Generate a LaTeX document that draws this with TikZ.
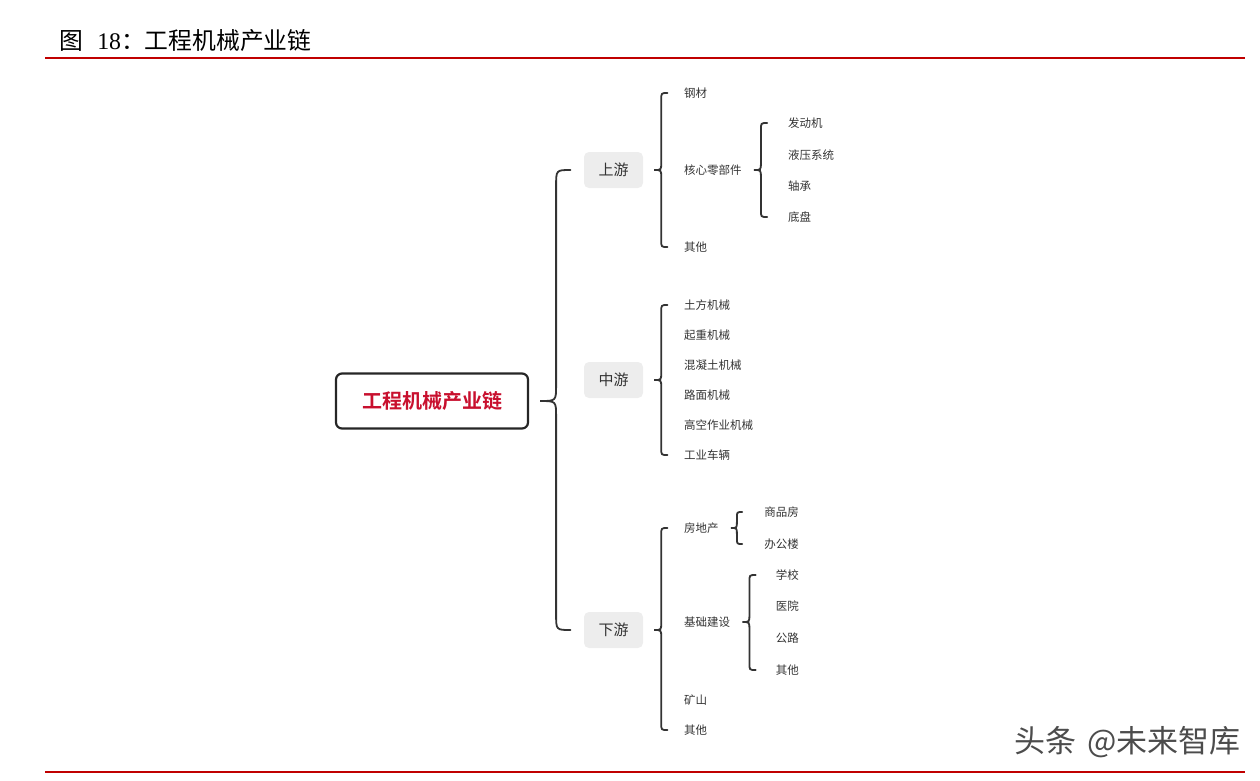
\documentclass[tikz,border=0pt]{standalone}
\usepackage{fontspec}
\usepackage{xcolor}
\usepackage{tikz}
\usetikzlibrary{positioning,calc}
\newfontfamily\cjk{Noto Sans CJK SC}
\newfontfamily\cjkbold{Noto Sans CJK SC Bold}
\newfontfamily\numfont{Liberation Serif}
\definecolor{rule}{RGB}{192,0,0}
\definecolor{rootred}{RGB}{200,16,46}
\definecolor{ink}{RGB}{51,51,51}
\definecolor{tag}{RGB}{237,237,237}

% curly bracket from a parent node to its first and last child
\newcommand\mmbrace[4]{%
  \draw[brc] let \p1=(#2.east), \p2=(#3.west), \p3=(#4.west),
    \n1={\x1+11pt}, \n2={\x1+11pt+#1} in
    (\n2+0.9*#1,\y2) .. controls (\n2,\y2) .. (\n2,\y2-#1)
    -- (\n2,\y1+#1) .. controls (\n2,\y1) .. (\n1,\y1)
    .. controls (\n2,\y1) .. (\n2,\y1-#1)
    -- (\n2,\y3+#1) .. controls (\n2,\y3) .. (\n2+0.9*#1,\y3);}

\begin{document}
\begin{tikzpicture}[
  x=1pt, y=-1pt, font=\cjk,
  root/.style={draw=black!85, line width=2.2pt, rounded corners=6pt, minimum width=192pt, minimum height=55pt,
    text=rootred, font=\cjkbold\fontsize{20}{20}\selectfont},
  stage/.style={fill=tag, rounded corners=5pt, minimum width=59pt, minimum height=36pt, text=ink,
    font=\cjk\fontsize{15}{15}\selectfont},
  leaf/.style={anchor=west, inner sep=1pt, text=ink, font=\cjk\fontsize{11.5}{11.5}\selectfont},
  rleaf/.style={leaf, anchor=east},
  brc/.style={draw=ink, line width=1.8pt, line cap=round},
  hrule/.style={draw=rule, line width=2.4pt},
]
\useasboundingbox (0,0) rectangle (1260,780);

\node[anchor=west, inner sep=0pt, font=\cjk\fontsize{23.8}{23.8}\selectfont] (title) at (59,40)
  {图\hspace{0.6em}{\numfont 18}：工程机械产业链};
\coordinate (rl) at (45,58);
\coordinate (rr) at (1245,58);
\coordinate (bl) at (45,772);
\coordinate (br) at (1245,772);
\draw[hrule] (rl) -- (rr);
\draw[hrule] (bl) -- (br);
\node[anchor=east, inner sep=0pt, text=black!70, font=\cjk\fontsize{31}{31}\selectfont] (mark) at (1241,742)
  {头条\hspace{0.35em}@未来智库};

\node[root] (chain) at (432,401) {工程机械产业链};
\node[stage] (up) at (613.5,170) {上游};
\node[stage] (mid) at (613.5,380) {中游};
\node[stage] (down) at (613.5,630) {下游};
\mmbrace{16pt}{chain}{up}{down}

% upstream
\node[leaf] (steel) at (683,93) {钢材};
\node[leaf] (core) at (683,170) {核心零部件};
\node[leaf] (upother) at (683,247) {其他};
\mmbrace{7pt}{up}{steel}{upother}
\node[leaf] (engine) at (787,123) {发动机};
\node[leaf] (hydro) at (787,155) {液压系统};
\node[leaf] (bearing) at (787,186) {轴承};
\node[leaf] (chassis) at (787,217) {底盘};
\mmbrace{7pt}{core}{engine}{chassis}

% midstream
\node[leaf] (earth) at (683,305) {土方机械};
\node[leaf] (crane) at (683,335) {起重机械};
\node[leaf] (concrete) at (683,365) {混凝土机械};
\node[leaf] (road) at (683,395) {路面机械};
\node[leaf] (aerial) at (683,425) {高空作业机械};
\node[leaf] (truck) at (683,455) {工业车辆};
\mmbrace{7pt}{mid}{earth}{truck}

% downstream
\node[leaf] (estate) at (683,528) {房地产};
\node[leaf] (infra) at (683,622) {基础建设};
\node[leaf] (mine) at (683,700) {矿山};
\node[leaf] (downother) at (683,730) {其他};
\mmbrace{7pt}{down}{estate}{downother}
\node[rleaf] (house) at (800,512) {商品房};
\node[rleaf] (office) at (800,544) {办公楼};
\mmbrace{6pt}{estate}{house}{office}
\node[rleaf] (school) at (800,575) {学校};
\node[rleaf] (hospital) at (800,606) {医院};
\node[rleaf] (highway) at (800,638) {公路};
\node[rleaf] (infraother) at (800,670) {其他};
\mmbrace{7pt}{infra}{school}{infraother}
\end{tikzpicture}
\end{document}
